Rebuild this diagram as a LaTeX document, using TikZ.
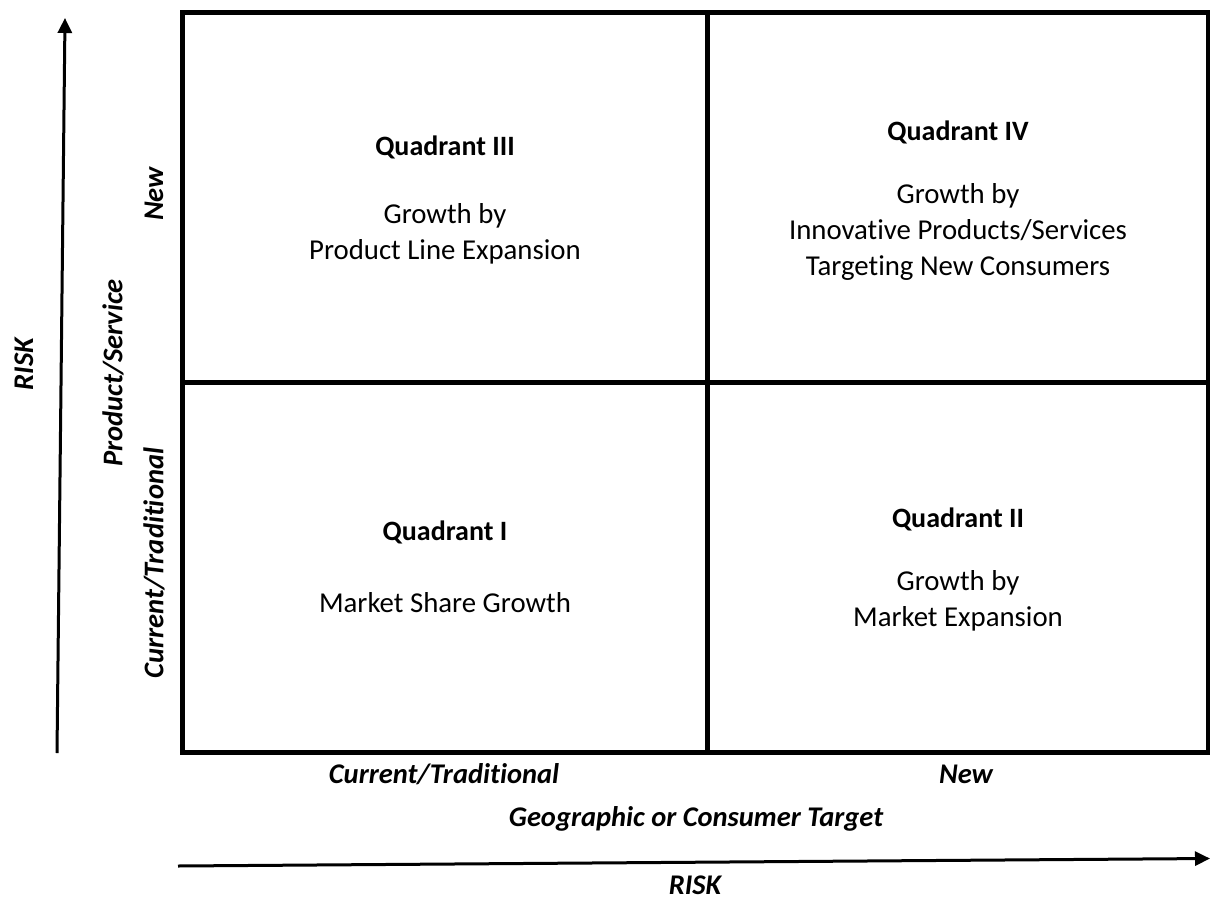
\documentclass[tikz,border=0pt]{standalone}
\usepackage{fontspec}
\setmainfont[Ligatures={NoCommon}]{Carlito}
\usetikzlibrary{arrows.meta}
\tikzset{
  grid/.style={line width=5pt, line cap=rect},
  riskarrow/.style={line width=3pt, -{Triangle[length=15pt,width=14pt]}},
  qtitle/.style={font=\fontsize{28}{36}\selectfont\bfseries, inner sep=0pt, anchor=center},
  qtext/.style={font=\fontsize{28.8}{36}\selectfont, inner sep=0pt, align=center, anchor=center},
  axlab/.style={font=\fontsize{28.5}{32}\selectfont\bfseries\itshape, inner sep=0pt, anchor=center},
}
\begin{document}
\begin{tikzpicture}[x=1pt,y=-1pt]
\useasboundingbox (0,0) rectangle (1210,899);
% grid
\coordinate (tl) at (182.5,12.5);
\coordinate (br) at (1208,752.5);
\coordinate (mt) at (707,12.5);
\coordinate (mb) at (707,752.5);
\coordinate (ml) at (182.5,382);
\coordinate (mr) at (1208,382);
\draw[grid] (tl) rectangle (br);
\draw[grid] (mt) -- (mb);
\draw[grid] (ml) -- (mr);
% quadrant texts
\node[qtitle] (q3t) at (445,147) {Quadrant III};
\node[qtext] (q3b) at (445,234) {Growth by\\Product Line Expansion};
\node[qtitle] (q4t) at (958,132) {Quadrant IV};
\node[qtext] (q4b) at (958,232) {Growth by\\Innovative Products/Services\\Targeting New Consumers};
\node[qtitle] (q1t) at (445,532) {Quadrant I};
\node[qtext] (q1b) at (445,603) {Market Share Growth};
\node[qtitle] (q2t) at (958,519) {Quadrant II};
\node[qtext] (q2b) at (958,601) {Growth by\\Market Expansion};
% axis labels
\node[axlab] (xcur) at (444,774) {Current/Traditional};
\node[axlab] (xnew) at (966,774) {New};
\node[axlab] (xlab) at (696,819) {Geographic or Consumer Target};
\node[axlab] (xrisk) at (695,885) {RISK};
\node[axlab, rotate=90] (ycur) at (154,563) {Current/Traditional};
\node[axlab, rotate=90] (ynew) at (154,194) {New};
\node[axlab, rotate=90] (ylab) at (113,373) {Product/Service};
\node[axlab, rotate=90] (yrisk) at (24,364) {RISK};
% risk arrows
\coordinate (ya) at (57,753);
\coordinate (yb) at (65,18);
\coordinate (xa) at (178,866);
\coordinate (xb) at (1210,858.5);
\draw[riskarrow] (ya) -- (yb);
\draw[riskarrow] (xa) -- (xb);
\end{tikzpicture}
\end{document}
